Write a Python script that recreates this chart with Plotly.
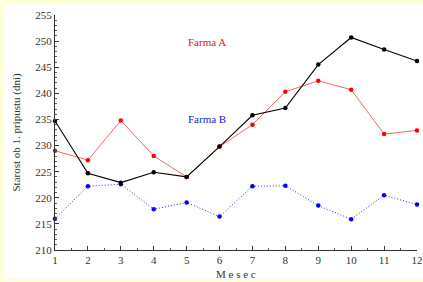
import plotly.graph_objects as go

months = [1, 2, 3, 4, 5, 6, 7, 8, 9, 10, 11, 12]
farma_a = [229.0, 227.2, 234.8, 228.0, 224.0, 229.8, 234.0, 240.3, 242.4, 240.7, 232.2, 232.9]
farma_b = [216.0, 222.2, 222.6, 217.8, 219.1, 216.4, 222.2, 222.3, 218.5, 215.9, 220.5, 218.7]
skupaj = [234.7, 224.7, 222.9, 224.9, 224.0, 229.8, 235.8, 237.2, 245.5, 250.7, 248.4, 246.2]
y_ticks = [210, 215, 220, 225, 230, 235, 240, 245, 250, 255]

font = "Liberation Serif, Times New Roman, serif"

fig = go.Figure()
fig.add_trace(go.Scatter(x=months, y=farma_b, mode="lines+markers",
                         line=dict(color="#3030e0", width=1, dash="1px,2px"),
                         marker=dict(color="#0000ff", size=4.5), showlegend=False,
                         cliponaxis=False))
fig.add_trace(go.Scatter(x=months, y=farma_a, mode="lines+markers",
                         line=dict(color="#f04040", width=0.8),
                         marker=dict(color="#ff0000", size=4.5), showlegend=False,
                         cliponaxis=False))
fig.add_trace(go.Scatter(x=months, y=skupaj, mode="lines+markers",
                         line=dict(color="#000000", width=1.1),
                         marker=dict(color="#000000", size=4.5), showlegend=False,
                         cliponaxis=False))

fig.add_annotation(x=5.63, y=249.8, text="Farma A", showarrow=False,
                   font=dict(family=font, size=11, color="#e02020"))
fig.add_annotation(x=5.63, y=235.0, text="Farma B", showarrow=False,
                   font=dict(family=font, size=11, color="#2020d0"))

# axis titles
fig.add_annotation(xref="paper", yref="paper", x=0.5, y=-16/235, yanchor="top",
                   text="M e s e c", showarrow=False,
                   font=dict(family=font, size=11, color="#333333"))
fig.add_annotation(xref="paper", yref="paper", x=-39/362, y=0.5, xanchor="center",
                   text="Starost ob 1. pripustu (dni)", textangle=-90, showarrow=False,
                   font=dict(family=font, size=11, color="#333333"))

fig.add_shape(type="rect", xref="paper", yref="paper", layer="below",
              x0=-52/362, x1=1 + 6/362, y0=-29/235, y1=1 + 12/235,
              fillcolor="white", line=dict(width=0))

fig.update_layout(
    width=423, height=282,
    margin=dict(l=55, r=6, t=15, b=32, autoexpand=False),
    paper_bgcolor="#ffffd4", plot_bgcolor="white",
    font=dict(family=font, size=10, color="#333333"),
    xaxis=dict(range=[1, 12], tickmode="array", tickvals=months, automargin=False,
               showgrid=False, zeroline=False, showline=True, linecolor="#333333", linewidth=1,
               ticks="inside", ticklen=4, tickcolor="#333333",
               minor=dict(ticks="inside", ticklen=2, dtick=0.5, tickcolor="#555555"),
               tickfont=dict(family=font, size=11, color="#333333")),
    yaxis=dict(range=[210, 255], tickmode="array", tickvals=y_ticks, automargin=False,
               showgrid=False, zeroline=False, showline=True, linecolor="#333333", linewidth=1,
               ticks="inside", ticklen=4, tickcolor="#333333",
               minor=dict(ticks="inside", ticklen=2, dtick=1, tickcolor="#555555"),
               tickfont=dict(family=font, size=11, color="#333333")),
)

fig.write_html("out.html", config={"displayModeBar": False},
               post_script="document.body.style.margin='0';document.body.style.overflow='hidden';")
